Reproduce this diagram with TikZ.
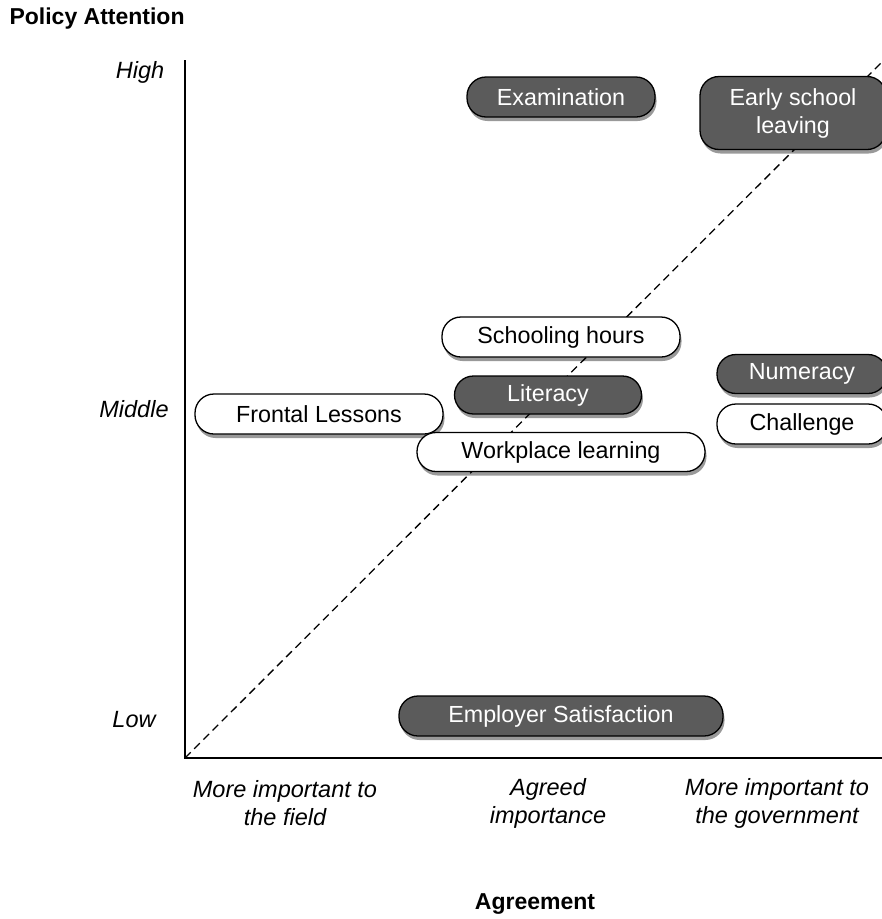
\documentclass[tikz,border=0pt]{standalone}
\usepackage{fontspec}
\setmainfont{Liberation Sans}
\usetikzlibrary{shadows,positioning}

\definecolor{topicgray}{HTML}{5B5B5B}

\tikzset{
  topic/.style={rectangle, rounded corners=19pt, draw=black, line width=1.3pt,
    minimum height=40pt, inner sep=0pt, align=center,
    font=\fontsize{23.3}{28}\selectfont,
    drop shadow={shadow xshift=1.5pt, shadow yshift=-4pt, opacity=0.4, fill=black}},
  darktopic/.style={topic, fill=topicgray, text=white},
  lighttopic/.style={topic, fill=white, text=black},
  level/.style={font=\fontsize{23.5}{28}\selectfont\itshape, align=center},
  axistitle/.style={font=\fontsize{23}{27}\selectfont\bfseries},
}

\begin{document}
\begin{tikzpicture}[x=1pt, y=-1pt]
    \useasboundingbox (0,0) rectangle (882,919);
    \clip (0,0) rectangle (882,919);

    % Axes
    \coordinate (origin) at (185,758);
    \coordinate (ytop) at (185,60);
    \coordinate (xend) at (884,758);
    \coordinate (diagend) at (884,60);
    \draw [line width=1.6pt] (ytop) -- (origin) -- (xend);
    \draw [line width=1.3pt, dash pattern=on 8pt off 5pt] (origin) -- (diagend);

    % Axis titles
    \node [axistitle, anchor=west] (yaxis) at (6,19) {Policy Attention};
    \node [axistitle] (xaxis) at (535,904) {Agreement};

    % Levels of attention
    \node [level] (high) at (140,72) {High};
    \node [level] (middle) at (134,409) {Middle};
    \node [level] (low) at (134,720) {Low};

    % Levels of agreement
    \node [level] (field) at (285,803) {More important to\\the field};
    \node [level] (agreed) at (548,803) {Agreed\\importance};
    \node [level] (govt) at (777,803) {More important to\\the government};

    % Topics
    \node [darktopic, minimum width=188pt] (exam) at (561,97) {Examination};
    \node [darktopic, minimum width=186pt, minimum height=73pt] (early) at (793,113) {Early school\\leaving};
    \node [lighttopic, minimum width=238pt] (hours) at (561,337) {Schooling hours};
    \node [darktopic, minimum width=187pt, minimum height=38pt] (literacy) at (548,395) {Literacy};
    \node [lighttopic, minimum width=248pt] (frontal) at (319,414) {Frontal Lessons};
    \node [lighttopic, minimum width=288pt, minimum height=39pt] (workplace) at (561,452) {Workplace learning};
    \node [darktopic, minimum width=170pt, minimum height=39pt] (numeracy) at (802,374) {Numeracy};
    \node [lighttopic, minimum width=170pt] (challenge) at (802,424) {Challenge};
    \node [darktopic, minimum width=324pt] (employer) at (561,716) {Employer Satisfaction};
\end{tikzpicture}
\end{document}
